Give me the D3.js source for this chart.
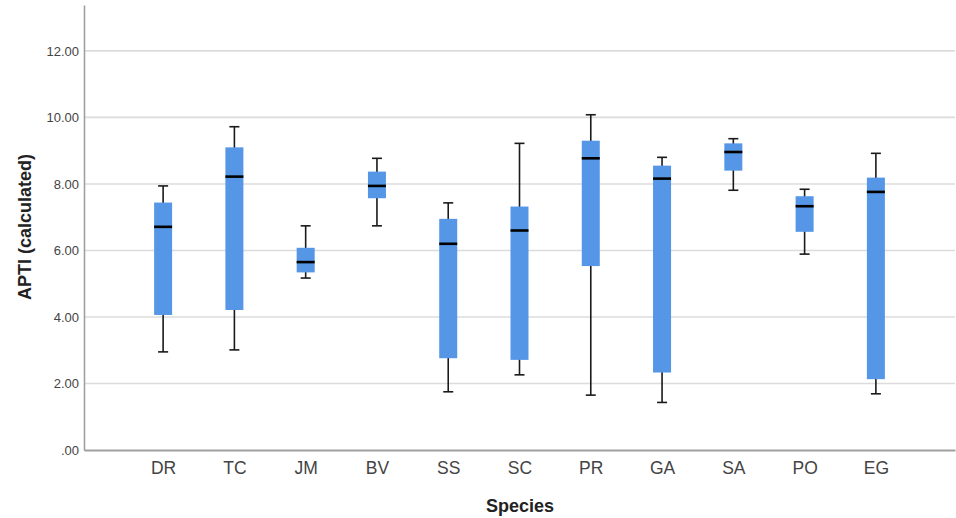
<!DOCTYPE html>
<html lang="en">
<head>
  <meta charset="UTF-8" />
  <script src="https://d3js.org/d3.v7.min.js"></script>
  <title>APTI by Species</title>
  <style>
    body { margin: 0; background: #fff; }
    svg { display: block; font-family: "Liberation Sans", Arial, sans-serif; }
  </style>
</head>
<body>
  <div id="chart"></div>
  <script>
    // values
    const species = ["DR", "TC", "JM", "BV", "SS", "SC", "PR", "GA", "SA", "PO", "EG"];
    const whiskerLow  = [2.95, 3.01, 5.17, 6.74, 1.75, 2.26, 1.65, 1.43, 7.81, 5.89, 1.69];
    const q1          = [4.06, 4.21, 5.34, 7.57, 2.76, 2.71, 5.53, 2.33, 8.40, 6.56, 2.13];
    const median      = [6.71, 8.22, 5.65, 7.94, 6.20, 6.60, 8.77, 8.16, 8.96, 7.33, 7.76];
    const q3          = [7.44, 9.10, 6.08, 8.37, 6.95, 7.32, 9.30, 8.55, 9.22, 7.63, 8.19];
    const whiskerHigh = [7.94, 9.72, 6.74, 8.77, 7.43, 9.22, 10.08, 8.80, 9.36, 7.84, 8.92];
    const yTicks = [0, 2, 4, 6, 8, 10, 12];

    const data = species.map((s, i) => ({
      name: s, lo: whiskerLow[i], q1: q1[i], med: median[i], q3: q3[i], hi: whiskerHigh[i]
    }));

    const width = 956, height = 518;
    const margin = { top: 5, right: 1, bottom: 68, left: 84 };

    const svg = d3.select("#chart")
      .append("svg")
      .attr("width", width)
      .attr("height", height);

    const x = d3.scalePoint()
      .domain(species)
      .range([margin.left, width - margin.right])
      .padding(1.11);

    const y = d3.scaleLinear()
      .domain([0, 13.38])
      .range([height - margin.bottom, margin.top]);

    // gridlines
    svg.append("g")
      .selectAll("line")
      .data(yTicks.filter(d => d > 0))
      .enter()
      .append("line")
      .attr("x1", margin.left)
      .attr("x2", width - margin.right)
      .attr("y1", d => y(d))
      .attr("y2", d => y(d))
      .attr("stroke", "#dcdcdc")
      .attr("stroke-width", 1.6);

    // y axis
    const yAxis = svg.append("g")
      .attr("transform", `translate(${margin.left},0)`)
      .call(d3.axisLeft(y).tickValues(yTicks).tickSize(0).tickPadding(5)
        .tickFormat(d => d === 0 ? ".00" : d3.format(".2f")(d)));
    yAxis.select(".domain").attr("stroke", "#a0a0a0").attr("stroke-width", 1.6);
    yAxis.selectAll("text").attr("font-size", "13px").attr("fill", "#444")
      .attr("font-family", "Liberation Sans, Arial, sans-serif");

    // x axis
    const xAxis = svg.append("g")
      .attr("transform", `translate(0,${height - margin.bottom})`)
      .call(d3.axisBottom(x).tickSize(0).tickPadding(12));
    xAxis.select(".domain").attr("stroke", "#a0a0a0").attr("stroke-width", 2);
    xAxis.selectAll("text").attr("font-size", "17.5px").attr("fill", "#444")
      .attr("font-family", "Liberation Sans, Arial, sans-serif");

    // axis titles
    svg.append("text")
      .attr("transform", "rotate(-90)")
      .attr("x", -227)
      .attr("y", 31)
      .attr("text-anchor", "middle")
      .attr("font-size", "18px")
      .attr("font-weight", "bold")
      .attr("fill", "#222")
      .text("APTI (calculated)");

    svg.append("text")
      .attr("x", 520)
      .attr("y", 512)
      .attr("text-anchor", "middle")
      .attr("font-size", "18px")
      .attr("font-weight", "bold")
      .attr("fill", "#222")
      .text("Species");

    // boxes
    const boxW = 18, capW = 10;
    const g = svg.append("g")
      .selectAll("g")
      .data(data)
      .enter()
      .append("g");

    g.append("line")
      .attr("x1", d => x(d.name)).attr("x2", d => x(d.name))
      .attr("y1", d => y(d.lo)).attr("y2", d => y(d.hi))
      .attr("stroke", "#1a1a1a").attr("stroke-width", 1.6);

    g.selectAll(".cap")
      .data(d => [{ n: d.name, v: d.lo }, { n: d.name, v: d.hi }])
      .enter()
      .append("line")
      .attr("x1", d => x(d.n) - capW / 2).attr("x2", d => x(d.n) + capW / 2)
      .attr("y1", d => y(d.v)).attr("y2", d => y(d.v))
      .attr("stroke", "#1a1a1a").attr("stroke-width", 1.6);

    g.append("rect")
      .attr("x", d => x(d.name) - boxW / 2)
      .attr("width", boxW)
      .attr("y", d => y(d.q3))
      .attr("height", d => y(d.q1) - y(d.q3))
      .attr("fill", "#5596e6");

    g.append("line")
      .attr("x1", d => x(d.name) - boxW / 2).attr("x2", d => x(d.name) + boxW / 2)
      .attr("y1", d => y(d.med)).attr("y2", d => y(d.med))
      .attr("stroke", "#000").attr("stroke-width", 2.6);
  </script>
</body>
</html>
